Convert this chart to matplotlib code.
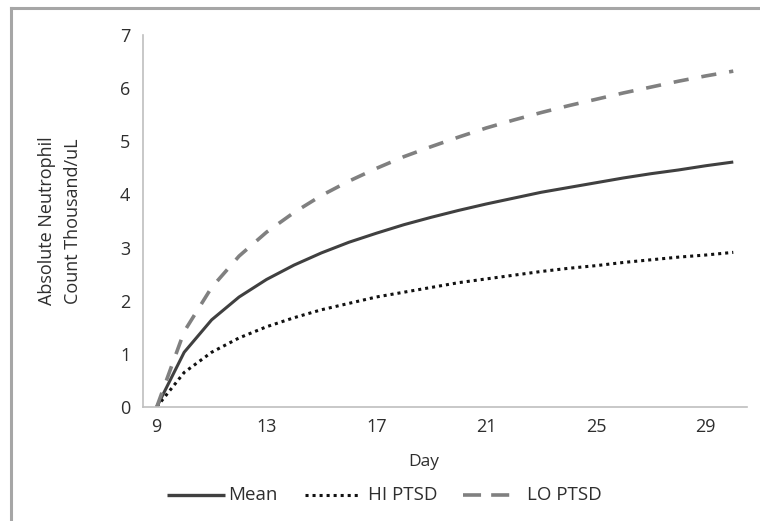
import matplotlib
matplotlib.use("Agg")
import matplotlib.pyplot as plt
from matplotlib.lines import Line2D

days = list(range(9, 31))
mean_vals = [0.00, 1.03, 1.64, 2.07, 2.40, 2.67, 2.90, 3.10, 3.27, 3.43, 3.57,
             3.70, 3.82, 3.93, 4.04, 4.13, 4.22, 4.31, 4.39, 4.46, 4.54, 4.61]
hi_vals = [0.00, 0.65, 1.03, 1.30, 1.51, 1.68, 1.83, 1.95, 2.07, 2.16, 2.25,
           2.34, 2.41, 2.48, 2.55, 2.61, 2.66, 2.72, 2.77, 2.82, 2.86, 2.91]
lo_vals = [0.00, 1.42, 2.25, 2.84, 3.29, 3.66, 3.98, 4.25, 4.49, 4.71, 4.90,
           5.08, 5.25, 5.40, 5.54, 5.67, 5.79, 5.91, 6.02, 6.13, 6.23, 6.32]
x_ticks = [9, 13, 17, 21, 25, 29]
y_ticks = [0, 1, 2, 3, 4, 5, 6, 7]
series_labels = ["Mean", "HI PTSD", "LO PTSD"]

plt.rcParams['font.family'] = ['Open Sans', 'DejaVu Sans']
W, H = 760, 521
fig = plt.figure(figsize=(W / 100, H / 100), dpi=100)
ax = fig.add_axes([143 / W, 1 - 407 / H, (747 - 143) / W, (407 - 35) / H])

txt = '#2e2e2e'
styles = [
    dict(color='#404040', lw=2.2, solid_capstyle='butt'),
    dict(color='#111111', lw=2.2, dashes=(1.0, 1.3), dash_capstyle='butt'),
    dict(color='#808080', lw=2.6, dashes=(4.2, 3.6), dash_capstyle='butt'),
]
for vals, st in zip([mean_vals, hi_vals, lo_vals], styles):
    ax.plot(days, vals, **st)

ax.set_xlim(8.5, 30.5)
ax.set_ylim(0, 7)
ax.set_xticks(x_ticks)
ax.set_yticks(y_ticks)
ax.tick_params(axis='both', length=0, labelsize=13, colors=txt)
ax.tick_params(axis='y', pad=9)
ax.tick_params(axis='x', pad=8)
for s in ['top', 'right']:
    ax.spines[s].set_visible(False)
for s in ['left', 'bottom']:
    ax.spines[s].set_color('#bfbfbf')
    ax.spines[s].set_linewidth(1.2)

fig.text(424 / W, 1 - 462 / H, "Day", ha='center', va='center', fontsize=12.5, color=txt)
fig.text(60 / W, 1 - 221 / H, "Absolute Neutrophil\nCount Thousand/uL", rotation=90,
         ha='center', va='center', fontsize=13, color=txt, linespacing=1.55)

# manual legend (Excel-style varying sample lengths)
ly = 1 - 495 / H
leg_items = [
    (167, 225, 228, dict(color='#404040', lw=2.4, solid_capstyle='butt')),
    (305, 358, 368, dict(color='#111111', lw=2.2, dashes=(1.0, 1.3), dash_capstyle='butt')),
    (463, 510, 527, dict(color='#808080', lw=2.6, dashes=(5.0, 2.8), dash_capstyle='butt')),
]
for (x0, x1, xt, st), lab in zip(leg_items, series_labels):
    fig.add_artist(Line2D([x0 / W, x1 / W], [ly, ly], transform=fig.transFigure, **st))
    fig.text(xt / W, ly, lab, ha='left', va='center', fontsize=13.5, color=txt)

# outer chart border (top and left visible)
fig.add_artist(Line2D([11 / W, 1], [1 - 8 / H, 1 - 8 / H], transform=fig.transFigure,
                      color='#a6a6a6', lw=2.2))
fig.add_artist(Line2D([11 / W, 11 / W], [0, 1 - 8 / H], transform=fig.transFigure,
                      color='#a6a6a6', lw=2.2))

fig.savefig("out.png", dpi=100)
